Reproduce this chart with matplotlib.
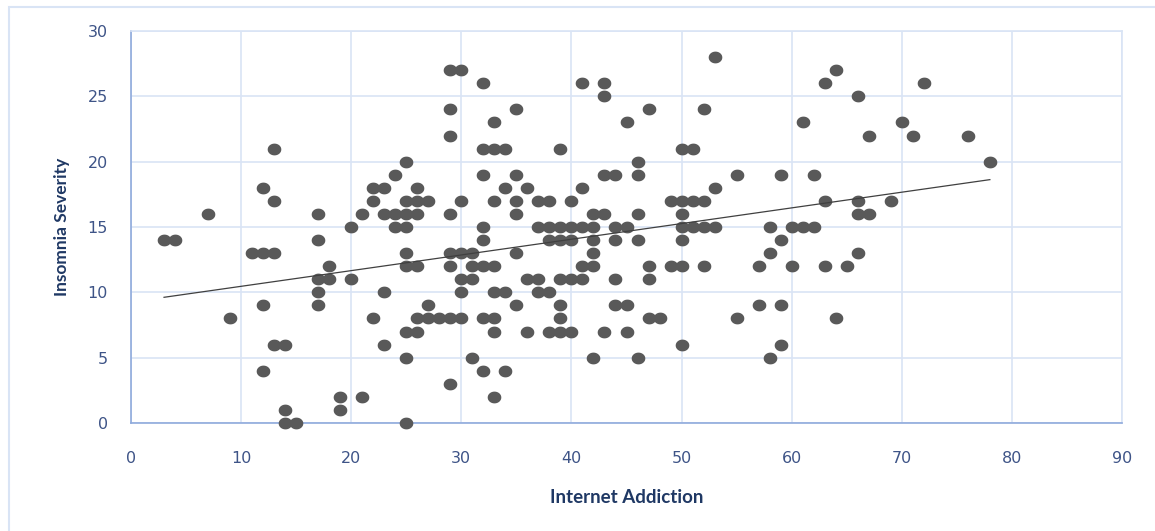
import numpy as np
import matplotlib
matplotlib.use("Agg")
import matplotlib.pyplot as plt
from matplotlib.path import Path
from matplotlib.patches import Rectangle

# values (integer scores)
internet_addiction = [
    3, 4, 7, 9, 11,
    12, 12, 12, 12,
    13, 13, 13, 13,
    14, 14, 14, 15,
    17, 17, 17, 17, 17,
    18, 18, 19, 19, 20, 20, 21, 21,
    22, 22, 22, 23, 23, 23, 23, 24, 24, 24,
    25, 25, 25, 25, 25, 25, 25, 25, 25,
    26, 26, 26, 26, 26, 26, 27, 27, 27, 28,
    29, 29, 29, 29, 29, 29, 29, 29,
    30, 30, 30, 30, 30, 30,
    31, 31, 31, 31,
    32, 32, 32, 32, 32, 32, 32, 32,
    33, 33, 33, 33, 33, 33, 33, 33,
    34, 34, 34, 34,
    35, 35, 35, 35, 35, 35,
    36, 36, 36, 37, 37, 37, 37,
    38, 38, 38, 38, 38,
    39, 39, 39, 39, 39, 39, 39,
    40, 40, 40, 40, 40,
    41, 41, 41, 41, 41,
    42, 42, 42, 42, 42, 42,
    43, 43, 43, 43, 43,
    44, 44, 44, 44, 44,
    45, 45, 45, 45,
    46, 46, 46, 46, 46,
    47, 47, 47, 47, 48, 49, 49,
    50, 50, 50, 50, 50, 50, 50,
    51, 51, 51, 52, 52, 52, 52, 53, 53, 53,
    55, 55, 57, 57, 58, 58, 58, 59, 59, 59, 59,
    60, 60, 61, 61, 62, 62, 63, 63, 63, 64, 64, 65,
    66, 66, 66, 66, 67, 67, 69, 70, 71, 72, 76, 78,
]
insomnia_severity = [
    14, 14, 16, 8, 13,
    13, 18, 9, 4,
    13, 21, 17, 6,
    6, 1, 0, 0,
    16, 14, 11, 10, 9,
    12, 11, 2, 1, 15, 11, 16, 2,
    18, 17, 8, 18, 16, 10, 6, 19, 16, 15,
    20, 17, 16, 15, 13, 12, 7, 5, 0,
    18, 17, 16, 12, 8, 7, 17, 9, 8, 8,
    27, 24, 22, 16, 13, 12, 8, 3,
    27, 17, 13, 11, 10, 8,
    13, 12, 11, 5,
    26, 21, 19, 15, 14, 12, 8, 4,
    23, 21, 17, 12, 10, 8, 7, 2,
    21, 18, 10, 4,
    24, 19, 17, 16, 13, 9,
    18, 11, 7, 17, 15, 11, 10,
    17, 15, 14, 10, 7,
    21, 15, 14, 11, 9, 8, 7,
    17, 15, 14, 11, 7,
    26, 18, 15, 12, 11,
    16, 15, 14, 13, 12, 5,
    26, 25, 19, 16, 7,
    19, 15, 14, 11, 9,
    23, 15, 9, 7,
    20, 19, 16, 14, 5,
    24, 12, 11, 8, 8, 17, 12,
    21, 17, 16, 15, 14, 12, 6,
    21, 17, 15, 24, 17, 15, 12, 28, 18, 15,
    19, 8, 12, 9, 15, 13, 5, 19, 14, 9, 6,
    15, 12, 23, 15, 19, 15, 26, 17, 12, 27, 8, 12,
    25, 17, 16, 13, 22, 16, 17, 23, 22, 26, 22, 20,
]

x_ticks = list(range(0, 91, 10))
y_ticks = list(range(0, 31, 5))

tick_color = "#3E5487"
label_color = "#1F3864"
grid_color = "#D9E4F5"
axis_color = "#8FAADC"
point_color = "#595959"

# slightly flattened dot, like the original export
t = np.linspace(0, 2 * np.pi, 60)
dot = Path(np.column_stack([np.cos(t), 0.85 * np.sin(t)]), closed=True)

fig = plt.figure(figsize=(11.55, 5.31), dpi=100)
ax = fig.add_axes([131 / 1155, 1 - 423 / 531, (1122 - 131) / 1155, (423 - 31) / 531])

# outer chart border
fig.patches.append(Rectangle((9 / 1155, -0.1), 1.2, 1 - 7 / 531 + 0.1,
                             transform=fig.transFigure, fill=False,
                             edgecolor=grid_color, lw=1.5, zorder=0))

ax.plot(internet_addiction, insomnia_severity, linestyle="none", marker=dot,
        ms=8.8, color=point_color, mec=point_color, zorder=3, clip_on=False)

# linear trendline
xs = np.array(internet_addiction, dtype=float)
ys = np.array(insomnia_severity, dtype=float)
slope, intercept = np.polyfit(xs, ys, 1)
x_line = np.array([xs.min(), xs.max()])
ax.plot(x_line, slope * x_line + intercept, color="#404040", lw=0.9, zorder=4)

ax.set_xlim(0, 90)
ax.set_ylim(0, 30)
ax.set_xticks(x_ticks)
ax.set_yticks(y_ticks)
ax.grid(True, color=grid_color, lw=1.2)
ax.set_axisbelow(True)
for side in ["top", "right"]:
    ax.spines[side].set_color(grid_color)
    ax.spines[side].set_linewidth(1.2)
for side in ["left", "bottom"]:
    ax.spines[side].set_color(axis_color)
    ax.spines[side].set_linewidth(1.2)

ax.tick_params(axis="both", length=0, labelsize=11.5, labelcolor=tick_color)
ax.tick_params(axis="y", pad=16.5)
ax.tick_params(axis="x", pad=20)

ax.set_xlabel("Internet Addiction", fontsize=13.5, fontweight="bold",
              color=label_color, family="Lato", labelpad=17)
ax.set_ylabel("Insomnia Severity", fontsize=12.5, fontweight="bold",
              color=label_color, family="Lato", labelpad=13)

fig.savefig("out.png", dpi=100)
